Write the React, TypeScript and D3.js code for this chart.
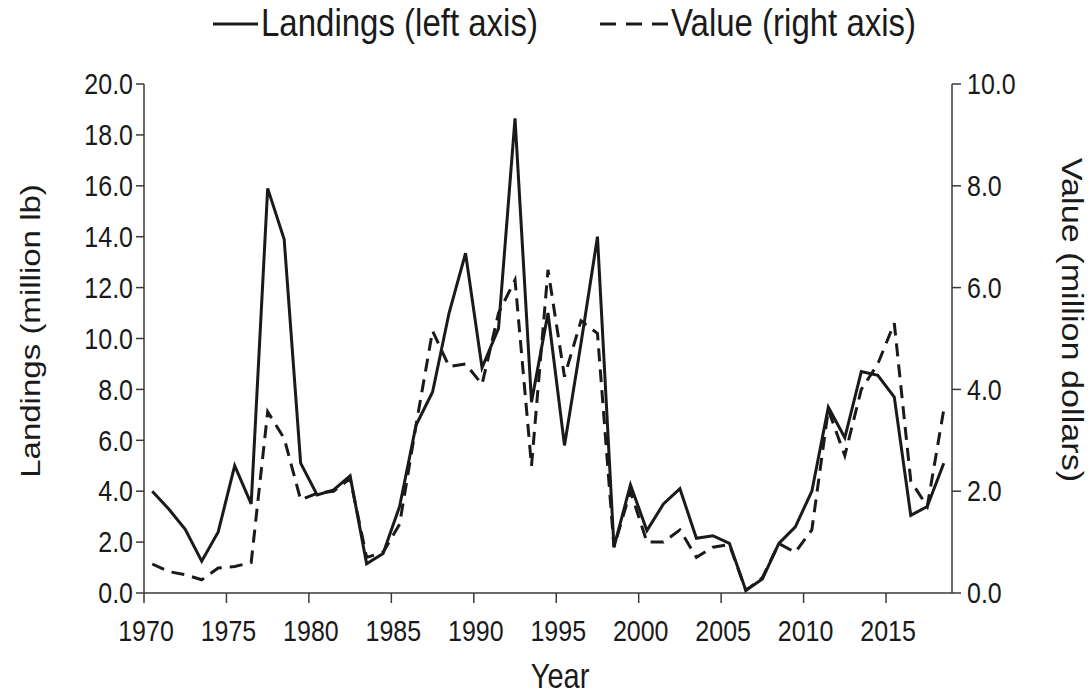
import React from 'react';
import * as d3 from 'd3';

// Years on the category axis
const years: number[] = d3.range(1970, 2019);

// Landings, million lb (left axis)
const landings: number[] = [
  4.0, 3.3, 2.5, 1.25, 2.4, 5.0, 3.5, 15.9, 13.9, 5.1,
  3.85, 4.05, 4.6, 1.15, 1.55, 3.4, 6.6, 7.9, 11.0, 13.35,
  8.85, 10.4, 18.65, 7.5, 11.0, 5.8, 9.8, 14.0, 1.8, 4.25,
  2.45, 3.5, 4.1, 2.15, 2.25, 1.95, 0.1, 0.55, 1.95, 2.6,
  4.0, 7.3, 6.1, 8.7, 8.55, 7.7, 3.05, 3.4, 5.1,
];

// Value, million dollars (right axis)
const values: number[] = [
  0.57, 0.42, 0.36, 0.26, 0.49, 0.52, 0.6, 3.56, 3.04, 1.83,
  1.96, 2.0, 2.25, 0.7, 0.8, 1.35, 3.3, 5.15, 4.45, 4.5,
  4.1, 5.5, 6.15, 2.5, 6.35, 4.25, 5.35, 5.1, 0.9, 2.0,
  1.0, 1.0, 1.24, 0.7, 0.9, 0.95, 0.05, 0.3, 0.97, 0.8,
  1.24, 3.6, 2.7, 4.0, 4.5, 5.3, 2.2, 1.7, 3.6,
];

const leftTicks: number[] = [0, 2, 4, 6, 8, 10, 12, 14, 16, 18, 20];
const rightTicks: number[] = [0, 2, 4, 6, 8, 10];
const yearTicks: number[] = [1970, 1975, 1980, 1985, 1990, 1995, 2000, 2005, 2010, 2015];

const W = 1091;
const H = 694;
const plot = { left: 144, right: 952, top: 84, bottom: 593 };
const STRETCH = 1.18; // glyphs in the picture are a bit taller than wide
const FONT = 'Arial, "Liberation Sans", sans-serif';
const INK = '#1a1a1a';
const AXIS = '#3a3a3a';

// text drawn slightly stretched vertically, like the source image
const T: React.FC<{
  x: number; y: number; size: number; anchor?: string; rotate?: number; children: React.ReactNode;
}> = ({ x, y, size, anchor = 'middle', rotate = 0, children }) => (
  <g transform={`translate(${x},${y}) scale(1,${STRETCH}) rotate(${rotate})`}>
    <text
      textAnchor={anchor}
      dominantBaseline="central"
      fontFamily={FONT}
      fontSize={size}
      fill={INK}
    >
      {children}
    </text>
  </g>
);

export default function App() {
  const x = d3.scaleLinear().domain([1969.5, 2018.5]).range([plot.left, plot.right]);
  const yL = d3.scaleLinear().domain([0, 20]).range([plot.bottom, plot.top]);
  const yR = d3.scaleLinear().domain([0, 10]).range([plot.bottom, plot.top]);

  const landLine = d3.line<number>()
    .x((_, i) => x(years[i]))
    .y(d => yL(d));
  const valueLine = d3.line<number>()
    .x((_, i) => x(years[i]))
    .y(d => yR(d));

  return (
    <svg
      width={W}
      height={H}
      style={{ position: 'absolute', left: 0, top: 0, background: '#fff' }}
    >
      <rect width={W} height={H} fill="#fff" />

      {/* legend */}
      <line x1={213} x2={258} y1={24} y2={24} stroke={INK} strokeWidth={3} />
      <T x={261} y={23} size={33} anchor="start">Landings (left axis)</T>
      <line x1={600} x2={668} y1={24} y2={24} stroke={INK} strokeWidth={3} strokeDasharray="16,10" />
      <T x={671} y={23} size={33} anchor="start">Value (right axis)</T>

      {/* axes */}
      <line x1={plot.left} x2={plot.left} y1={plot.top} y2={plot.bottom} stroke={AXIS} strokeWidth={1.5} />
      <line x1={plot.right} x2={plot.right} y1={plot.top} y2={plot.bottom} stroke={AXIS} strokeWidth={1.5} />
      <line x1={plot.left} x2={plot.right} y1={plot.bottom} y2={plot.bottom} stroke={AXIS} strokeWidth={1.5} />

      {leftTicks.map(t => (
        <g key={`l${t}`}>
          <line x1={plot.left - 8} x2={plot.left} y1={yL(t)} y2={yL(t)} stroke={AXIS} strokeWidth={1.5} />
          <T x={plot.left - 11} y={yL(t)} size={25} anchor="end">{t.toFixed(1)}</T>
        </g>
      ))}
      {rightTicks.map(t => (
        <g key={`r${t}`}>
          <line x1={plot.right} x2={plot.right + 9} y1={yR(t)} y2={yR(t)} stroke={AXIS} strokeWidth={1.5} />
          <T x={plot.right + 15} y={yR(t)} size={25} anchor="start">{t.toFixed(1)}</T>
        </g>
      ))}
      {yearTicks.map(t => (
        <g key={`x${t}`}>
          <line x1={x(t - 0.5)} x2={x(t - 0.5)} y1={plot.bottom} y2={plot.bottom + 10} stroke={AXIS} strokeWidth={1.5} />
          <T x={x(t - 0.5) + 2} y={631} size={25}>{t}</T>
        </g>
      ))}

      {/* axis titles */}
      <T x={560} y={676} size={29}>Year</T>
      <T x={30} y={331} size={28} rotate={-90}>Landings (million lb)</T>
      <T x={1072} y={320} size={29} rotate={90}>Value (million dollars)</T>

      {/* series */}
      <path d={valueLine(values) || ''} fill="none" stroke={INK} strokeWidth={3} strokeDasharray="13,8" />
      <path d={landLine(landings) || ''} fill="none" stroke={INK} strokeWidth={3} strokeLinejoin="miter" />
    </svg>
  );
}
